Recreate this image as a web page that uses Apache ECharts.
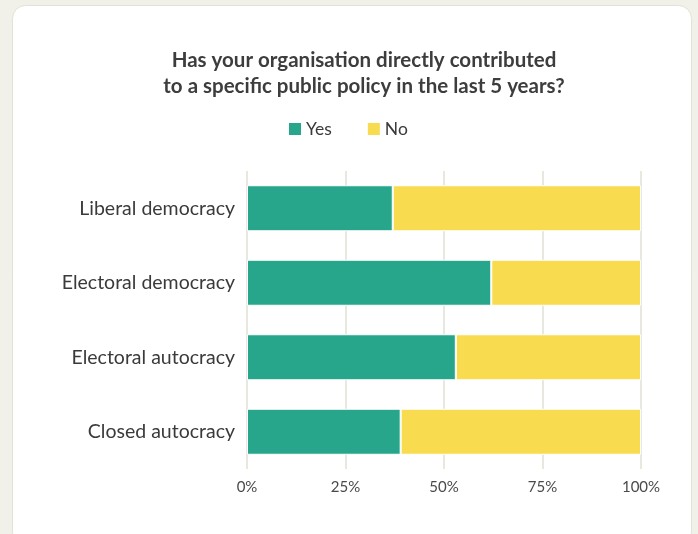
<!DOCTYPE html>
<html>
<head>
<meta charset="utf-8">
<script src="https://cdn.jsdelivr.net/npm/echarts@6/dist/echarts.min.js"></script>
<style>
html,body{margin:0;padding:0;background:#f1f1ea;}
#chart{width:698px;height:534px;}
</style>
</head>
<body>
<div id="chart"></div>
<script>
const titleText = "Has your organisation directly contributed\nto a specific public policy in the last 5 years?";
const categories = ["Liberal democracy", "Electoral democracy", "Electoral autocracy", "Closed autocracy"];
const seriesNames = ["Yes", "No"];
const yesValues = [37, 62, 53, 39];
const noValues = [63, 38, 47, 61];
const xTicks = [0, 25, 50, 75, 100];

const FONT = "Lato, 'Open Sans', sans-serif";
const chart = echarts.init(document.getElementById('chart'), null, {renderer: 'canvas'});
chart.setOption({
  backgroundColor: '#f1f1ea',
  textStyle: {fontFamily: FONT},
  graphic: [{
    type: 'rect', z: -10, silent: true,
    shape: {x: 12.5, y: 5.5, width: 679, height: 540, r: 13},
    style: {fill: '#ffffff', stroke: '#e2e1d6', lineWidth: 1}
  }],
  title: {
    text: titleText,
    left: 359, top: 42, textAlign: 'center',
    textStyle: {fontFamily: FONT, fontSize: 20.5, fontWeight: 'bold', color: '#3d3d3d', lineHeight: 26}
  },
  legend: {
    data: seriesNames,
    left: 287, top: 120, padding: 0,
    itemWidth: 14, itemHeight: 14, itemGap: 34,
    icon: 'rect',
    textStyle: {fontFamily: FONT, fontSize: 17.5, color: '#3a3a3a', padding: [0, 0, 0, -1]}
  },
  grid: {left: 247, right: 57, top: 171, bottom: 65, containLabel: false},
  xAxis: {
    type: 'value', min: xTicks[0], max: xTicks[xTicks.length - 1], interval: 25,
    axisLine: {show: false},
    axisTick: {show: false},
    splitLine: {show: true, lineStyle: {color: '#e9e8de', width: 2}},
    axisLabel: {formatter: '{value}%', fontFamily: FONT, fontSize: 15, color: '#4a4a4a', margin: 11}
  },
  yAxis: {
    type: 'category', data: categories, inverse: true,
    axisLine: {show: false}, axisTick: {show: false},
    axisLabel: {fontFamily: FONT, fontSize: 19.5, color: '#3a3a3a', margin: 12}
  },
  series: [
    {name: seriesNames[0], type: 'bar', stack: 'total', data: yesValues, barWidth: 46,
     itemStyle: {color: '#27a68c', borderColor: '#ffffff', borderWidth: 1}},
    {name: seriesNames[1], type: 'bar', stack: 'total', data: noValues, barWidth: 46,
     itemStyle: {color: '#f9db4f', borderColor: '#ffffff', borderWidth: 1}}
  ]
});
</script>
</body>
</html>
